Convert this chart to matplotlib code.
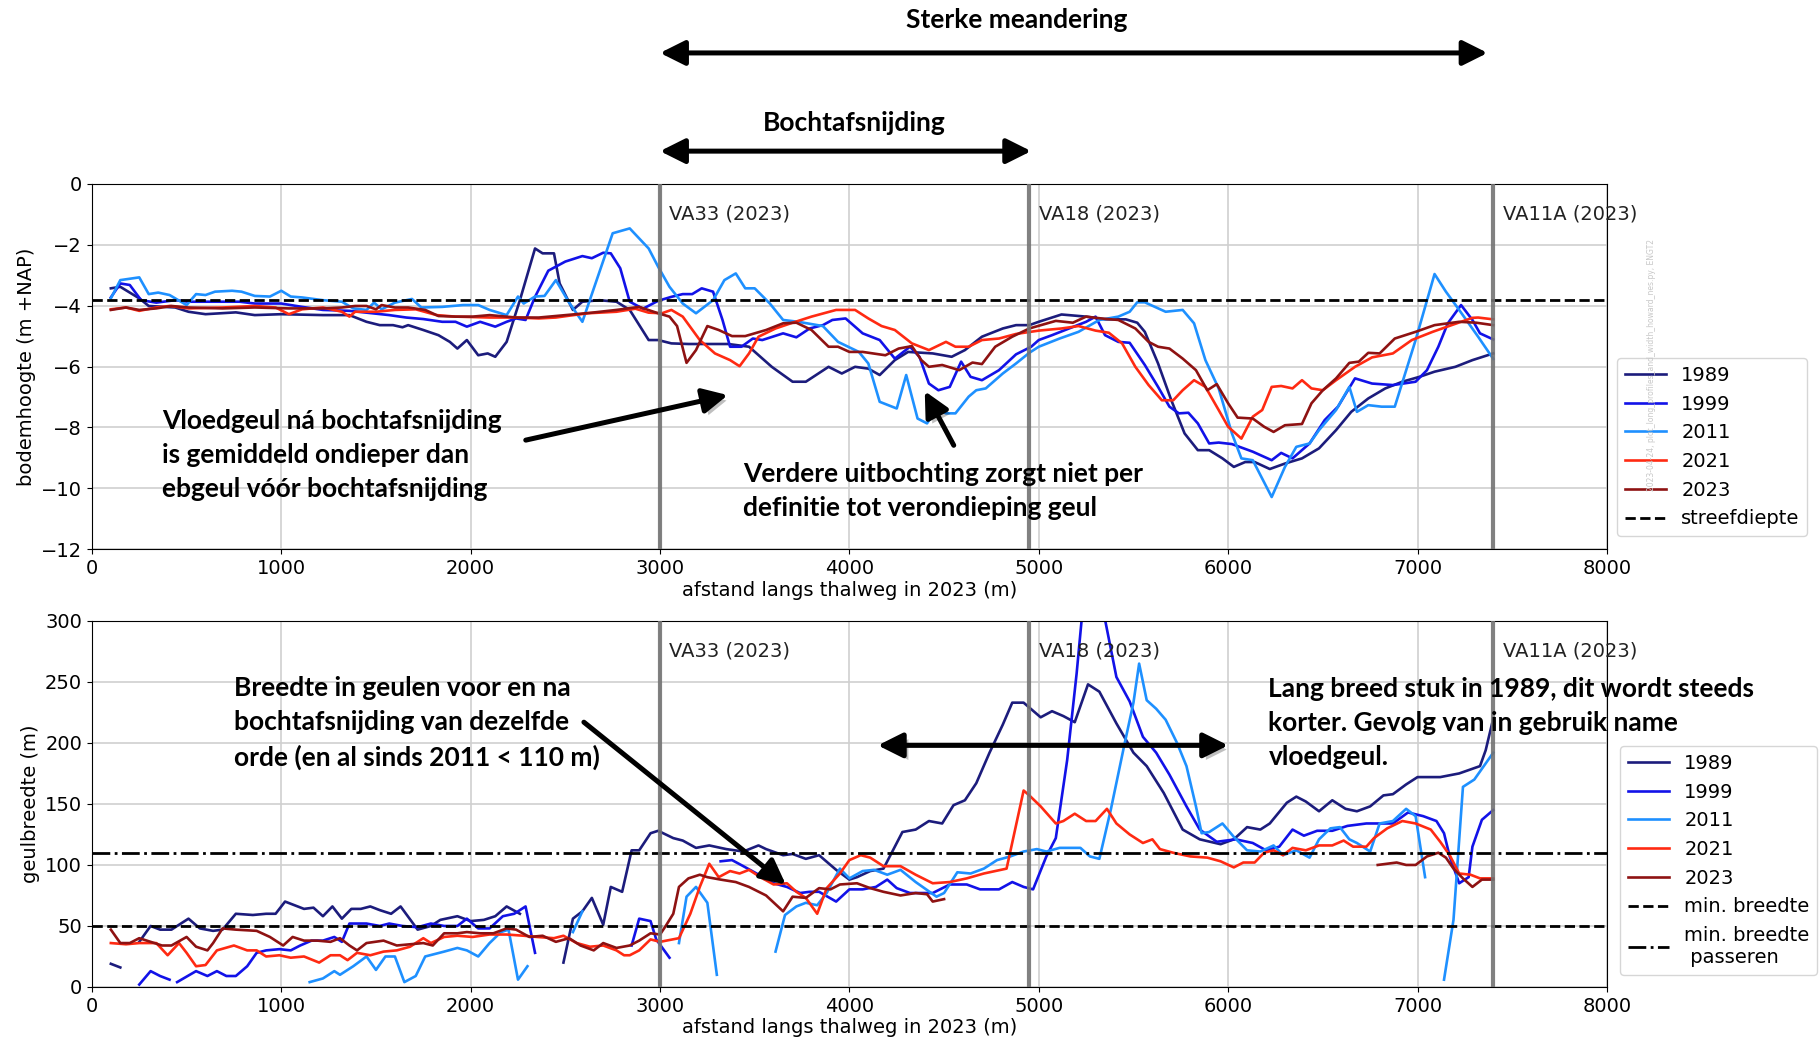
import numpy as np
import matplotlib
matplotlib.use('Agg')
import matplotlib.pyplot as plt
from matplotlib import patheffects as pe

nan = np.nan

years = ['1989', '1999', '2011', '2021', '2023']
colors = ['#1c1c7c', '#1212e8', '#1e90ff', '#ff2a12', '#8e1212']

# bodemhoogte (m +NAP) along thalweg distance (m)
depth_1989 = [(100,-3.43),(150,-3.38),(250,-3.76),(300,-4.01),(440,-4.06),(510,-4.2),(600,-4.28),(760,-4.22),(860,-4.31),(1000,-4.28),(1220,-4.31),(1360,-4.31),(1450,-4.53),(1520,-4.64),(1590,-4.64),(1640,-4.71),(1670,-4.64),(1750,-4.8),(1830,-4.97),(1890,-5.19),(1930,-5.41),(1980,-5.13),(2040,-5.63),(2090,-5.57),(2130,-5.68),(2190,-5.19),(2260,-3.82),(2340,-2.12),(2380,-2.28),(2440,-2.28),(2470,-3.27),(2540,-4.14),(2590,-3.87),(2680,-3.82),(2770,-3.87),(2840,-4.14),(2940,-5.13),(2990,-5.13),(3060,-5.24),(3150,-5.26),(3360,-5.26),(3470,-5.35),(3590,-6.01),(3700,-6.5),(3770,-6.5),(3890,-6.01),(3960,-6.23),(4030,-6.01),(4100,-6.07),(4160,-6.28),(4240,-5.79),(4310,-5.52),(4440,-5.57),(4540,-5.68),(4610,-5.46),(4700,-5.02),(4810,-4.75),(4880,-4.64),(4950,-4.64),(5000,-4.53),(5120,-4.29),(5250,-4.36),(5350,-4.45),(5460,-4.45),(5520,-4.56),(5560,-4.86),(5630,-5.9),(5700,-7.11),(5770,-8.2),(5840,-8.75),(5900,-8.75),(5970,-9.02),(6030,-9.3),(6090,-9.14),(6140,-9.14),(6220,-9.37),(6300,-9.19),(6390,-9.02),(6480,-8.69),(6570,-8.09),(6650,-7.49),(6740,-7.05),(6830,-6.72),(6920,-6.5),(7010,-6.34),(7090,-6.17),(7200,-6.01),(7290,-5.79),(7400,-5.57)]
depth_1999 = [(100,-3.73),(150,-3.27),(200,-3.32),(260,-3.82),(340,-3.9),(440,-3.82),(510,-3.87),(690,-3.87),(780,-3.87),(860,-3.93),(1000,-3.93),(1110,-4.04),(1220,-4.14),(1360,-4.17),(1480,-4.25),(1570,-4.31),(1660,-4.39),(1750,-4.44),(1850,-4.53),(1920,-4.53),(1980,-4.69),(2050,-4.53),(2130,-4.69),(2190,-4.53),(2240,-4.42),(2290,-4.47),(2340,-3.71),(2410,-2.85),(2500,-2.55),(2590,-2.37),(2640,-2.44),(2700,-2.26),(2740,-2.28),(2790,-2.77),(2840,-3.87),(2910,-4.1),(2990,-3.84),(3060,-3.71),(3120,-3.62),(3170,-3.62),(3220,-3.43),(3280,-3.54),(3330,-4.47),(3370,-5.35),(3430,-5.35),(3490,-5.08),(3540,-5.13),(3650,-4.91),(3720,-5.04),(3790,-4.75),(3860,-4.64),(3910,-4.47),(3980,-4.42),(4070,-4.91),(4160,-5.13),(4240,-5.74),(4320,-5.35),(4370,-5.68),(4420,-6.56),(4470,-6.78),(4530,-6.67),(4590,-5.84),(4640,-6.34),(4700,-6.45),(4790,-6.12),(4880,-5.6),(4960,-5.35),(5000,-5.13),(5070,-4.97),(5160,-4.75),(5250,-4.53),(5300,-4.36),(5350,-4.97),(5420,-5.19),(5480,-5.22),(5560,-5.95),(5630,-6.67),(5690,-7.32),(5740,-7.54),(5790,-7.52),(5840,-7.87),(5900,-8.53),(5950,-8.5),(6020,-8.55),(6130,-8.8),(6230,-9.08),(6280,-8.84),(6340,-9.02),(6430,-8.53),(6510,-7.76),(6580,-7.32),(6670,-6.39),(6760,-6.56),(6870,-6.61),(6990,-6.5),(7050,-6.12),(7110,-5.35),(7160,-4.58),(7230,-3.98),(7290,-4.47),(7330,-4.91),(7400,-5.11)]
depth_2011 = [(100,-3.76),(150,-3.16),(250,-3.07),(300,-3.62),(350,-3.57),(410,-3.65),(500,-3.98),(550,-3.62),(600,-3.65),(650,-3.54),(740,-3.51),(790,-3.54),(860,-3.68),(940,-3.7),(1000,-3.51),(1050,-3.7),(1110,-3.73),(1220,-3.82),(1320,-3.87),(1380,-4.09),(1450,-4.14),(1490,-3.9),(1530,-4.12),(1600,-3.9),(1690,-3.78),(1740,-4.06),(1850,-4.04),(1960,-3.98),(2040,-3.98),(2100,-4.14),(2190,-4.31),(2250,-3.7),(2280,-3.93),(2340,-3.7),(2390,-3.68),(2450,-3.16),(2520,-3.9),(2590,-4.53),(2750,-1.62),(2840,-1.46),(2940,-2.12),(2990,-2.72),(3050,-3.38),(3120,-3.93),(3190,-4.25),(3280,-3.82),(3340,-3.16),(3400,-2.94),(3450,-3.43),(3500,-3.43),(3580,-3.93),(3650,-4.47),(3730,-4.53),(3860,-4.67),(3940,-5.19),(4050,-5.52),(4100,-5.9),(4160,-7.16),(4250,-7.38),(4300,-6.28),(4360,-7.71),(4410,-7.87),(4460,-7.38),(4510,-7.54),(4560,-7.54),(4630,-6.99),(4670,-6.78),(4720,-6.72),(4810,-6.23),(4880,-5.9),(4950,-5.55),(5000,-5.35),(5110,-5.08),(5210,-4.86),(5320,-4.47),(5420,-4.36),(5480,-4.2),(5520,-3.89),(5560,-3.89),(5670,-4.2),(5760,-4.14),(5820,-4.58),(5880,-5.79),(5950,-6.72),(6020,-8.2),(6070,-9.02),(6130,-9.08),(6230,-10.29),(6300,-9.3),(6360,-8.64),(6430,-8.53),(6480,-8.09),(6570,-7.43),(6640,-6.67),(6680,-7.49),(6740,-7.27),(6810,-7.32),(6880,-7.32),(6990,-5.13),(7090,-2.96),(7150,-3.54),(7220,-4.14),(7320,-5.02),(7400,-5.75)]
depth_2021 = [(100,-4.12),(180,-4.06),(250,-4.17),(340,-4.06),(410,-4.01),(510,-4.09),(690,-4.06),(860,-4.01),(970,-4.06),(1040,-4.28),(1110,-4.12),(1220,-4.06),(1320,-4.2),(1360,-4.36),(1390,-4.2),(1500,-4.2),(1600,-4.14),(1710,-4.12),(1820,-4.31),(1920,-4.36),(2100,-4.39),(2240,-4.39),(2360,-4.42),(2450,-4.39),(2520,-4.33),(2620,-4.25),(2770,-4.2),(2870,-4.1),(2940,-4.23),(3010,-4.25),(3060,-4.14),(3120,-4.36),(3210,-5.13),(3290,-5.57),(3370,-5.79),(3420,-5.99),(3470,-5.57),(3520,-5.02),(3610,-4.75),(3700,-4.56),(3800,-4.36),(3930,-4.14),(4030,-4.14),(4100,-4.42),(4170,-4.67),(4240,-4.8),(4330,-5.24),(4420,-5.46),(4510,-5.19),(4560,-5.35),(4630,-5.35),(4700,-5.13),(4790,-5.08),(4880,-4.93),(5000,-4.82),(5120,-4.75),(5210,-4.67),(5300,-4.82),(5370,-4.89),(5440,-5.24),(5510,-6.01),(5580,-6.61),(5650,-7.11),(5710,-7.11),(5760,-6.78),(5820,-6.45),(5880,-6.67),(5950,-7.43),(6000,-7.98),(6070,-8.37),(6130,-7.65),(6180,-7.43),(6230,-6.67),(6280,-6.64),(6340,-6.72),(6390,-6.45),(6440,-6.72),(6500,-6.78),(6570,-6.45),(6670,-6.01),(6760,-5.7),(6870,-5.57),(6970,-5.13),(7080,-4.86),(7180,-4.64),(7290,-4.4),(7320,-4.39),(7400,-4.45)]
depth_2023 = [(100,-4.14),(180,-4.06),(250,-4.14),(340,-4.09),(420,-4.01),(510,-4.06),(690,-4.09),(860,-4.06),(1040,-4.09),(1220,-4.09),(1320,-4.06),(1390,-4.01),(1450,-4.01),(1500,-4.12),(1530,-3.98),(1600,-4.06),(1670,-4.06),(1760,-4.14),(1830,-4.34),(1920,-4.36),(2010,-4.36),(2100,-4.31),(2240,-4.39),(2360,-4.39),(2520,-4.3),(2640,-4.23),(2770,-4.14),(2890,-4.04),(2990,-4.25),(3050,-4.36),(3090,-4.67),(3140,-5.88),(3190,-5.46),(3250,-4.67),(3310,-4.8),(3380,-5.0),(3450,-5.0),(3560,-4.8),(3650,-4.58),(3720,-4.56),(3800,-4.8),(3890,-5.35),(3940,-5.35),(4000,-5.52),(4070,-5.52),(4190,-5.63),(4260,-5.41),(4330,-5.33),(4380,-5.79),(4420,-6.01),(4490,-5.95),(4580,-6.12),(4650,-5.87),(4700,-5.92),(4770,-5.35),(4860,-5.02),(4950,-4.75),(5090,-4.5),(5180,-4.56),(5250,-4.36),(5330,-4.42),(5420,-4.47),(5510,-4.75),(5580,-5.19),(5630,-5.35),(5690,-5.41),(5760,-5.74),(5830,-6.12),(5890,-6.78),(5940,-6.58),(6000,-7.21),(6050,-7.68),(6130,-7.71),(6190,-7.98),(6240,-8.15),(6300,-7.93),(6390,-7.89),(6440,-7.21),(6500,-6.78),(6570,-6.39),(6640,-5.88),(6690,-5.84),(6740,-5.55),(6800,-5.57),(6880,-5.08),(6990,-4.86),(7090,-4.64),(7220,-4.53),(7310,-4.56),(7400,-4.64)]

# geulbreedte (m) along thalweg distance (m); nan = gap
width_1989 = [(100,19),(150,16),(200,nan),(250,37),(310,50),(360,47),(420,47),(510,56),(570,48),(640,46),(690,47),(760,60),(850,59),(920,60),(970,60),(1020,70),(1120,64),(1170,65),(1220,58),(1270,66),(1320,56),(1370,64),(1420,64),(1470,66),(1520,63),(1580,60),(1630,66),(1720,47),(1790,50),(1840,55),(1930,58),(2000,54),(2070,55),(2130,58),(2190,66),(2260,60),(2300,nan),(2490,20),(2540,56),(2590,62),(2640,73),(2700,51),(2740,82),(2800,78),(2850,112),(2890,112),(2950,126),(2990,128),(3070,122),(3120,120),(3190,114),(3260,116),(3350,113),(3440,111),(3520,116),(3560,113),(3650,108),(3700,109),(3770,105),(3840,108),(3930,96),(4000,88),(4040,90),(4110,95),(4180,97),(4280,127),(4350,129),(4420,136),(4490,134),(4550,149),(4610,153),(4670,167),(4740,192),(4810,215),(4860,233),(4920,233),(4950,229),(5010,221),(5070,226),(5130,222),(5190,217),(5260,248),(5320,242),(5410,216),(5500,192),(5570,181),(5660,159),(5760,129),(5850,121),(5960,117),(6030,121),(6100,131),(6170,129),(6220,134),(6310,151),(6360,156),(6410,152),(6480,144),(6550,153),(6620,146),(6680,144),(6750,148),(6820,157),(6870,158),(6940,166),(7000,172),(7120,172),(7220,175),(7330,181),(7360,194),(7400,220)]
width_1999 = [(250,2),(310,13),(360,9),(410,6),(430,nan),(450,4),(550,13),(610,9),(660,13),(710,9),(760,9),(820,17),(870,28),(920,30),(990,31),(1050,30),(1100,34),(1160,38),(1220,38),(1280,41),(1320,37),(1360,52),(1450,52),(1520,50),(1570,52),(1640,50),(1720,49),(1790,52),(1860,50),(1930,50),(1980,56),(2040,48),(2100,48),(2170,58),(2230,60),(2290,66),(2340,28),(2400,nan),(2850,34),(2890,56),(2950,54),(2980,39),(3050,24),(3100,nan),(3320,103),(3380,104),(3440,99),(3510,93),(3600,85),(3670,82),(3740,77),(3790,78),(3840,78),(3930,70),(4000,80),(4070,80),(4140,82),(4200,88),(4250,81),(4320,77),(4370,77),(4440,77),(4530,84),(4620,84),(4690,80),(4790,80),(4860,86),(4920,82),(4970,80),(5040,107),(5090,122),(5150,186),(5200,257),(5250,340),(5310,340),(5350,301),(5410,254),(5480,234),(5550,205),(5620,192),(5690,174),(5780,148),(5850,129),(5940,119),(6040,121),(6130,118),(6200,112),(6270,115),(6340,129),(6400,124),(6470,128),(6550,128),(6630,132),(6730,134),(6800,134),(6870,134),(6950,143),(7030,140),(7100,136),(7140,126),(7170,107),(7220,85),(7270,90),(7290,115),(7340,137),(7400,145)]
width_2011 = [(1150,4),(1220,7),(1280,13),(1310,10),(1380,17),(1450,25),(1500,14),(1550,25),(1600,25),(1650,4),(1710,9),(1760,25),(1860,29),(1930,32),(1980,30),(2040,25),(2100,36),(2160,45),(2200,47),(2250,6),(2300,17),(2400,nan),(2540,45),(2590,62),(2620,nan),(3100,36),(3140,74),(3190,82),(3250,69),(3300,10),(3350,nan),(3610,29),(3660,59),(3720,66),(3770,69),(3830,67),(3880,77),(3950,97),(4000,89),(4070,95),(4130,96),(4200,92),(4270,96),(4350,86),(4460,74),(4500,77),(4570,94),(4640,93),(4710,97),(4780,104),(4850,107),(4920,111),(4990,113),(5040,111),(5110,114),(5220,114),(5270,107),(5320,105),(5380,145),(5450,197),(5500,233),(5530,265),(5570,235),(5620,228),(5670,219),(5730,200),(5780,181),(5830,148),(5860,126),(5900,127),(5970,134),(6030,123),(6100,112),(6170,111),(6240,116),(6290,108),(6360,112),(6430,106),(6480,121),(6540,130),(6590,131),(6640,121),(6680,118),(6750,111),(6800,134),(6870,136),(6940,146),(6990,140),(7040,90),(7090,nan),(7140,6),(7190,55),(7240,164),(7300,170),(7400,192)]
width_2021 = [(100,36),(180,35),(250,36),(340,36),(400,26),(460,36),(500,28),(550,17),(600,18),(660,30),(750,34),(820,30),(870,30),(920,25),(990,26),(1050,24),(1120,25),(1200,20),(1260,26),(1310,26),(1350,22),(1400,28),(1470,26),(1540,29),(1610,30),(1680,33),(1750,40),(1790,36),(1860,41),(1930,42),(2010,41),(2100,43),(2190,43),(2280,42),(2350,41),(2440,40),(2490,42),(2560,36),(2630,33),(2700,34),(2770,30),(2810,26),(2840,26),(2890,30),(2950,39),(3000,37),(3100,40),(3160,60),(3210,82),(3260,101),(3310,90),(3370,95),(3420,93),(3470,96),(3530,90),(3600,84),(3670,85),(3720,78),(3770,73),(3830,60),(3880,81),(3950,93),(4000,104),(4060,108),(4110,106),(4180,99),(4270,99),(4350,92),(4440,85),(4530,86),(4620,89),(4710,93),(4830,97),(4920,161),(4950,157),(5010,148),(5090,134),(5130,136),(5190,142),(5250,136),(5300,136),(5360,146),(5410,134),(5480,125),(5550,118),(5600,121),(5640,113),(5710,110),(5800,107),(5890,106),(5960,103),(6030,98),(6080,102),(6140,102),(6190,110),(6240,112),(6290,108),(6340,114),(6410,112),(6480,116),(6550,116),(6610,120),(6660,115),(6730,115),(6770,122),(6840,130),(6920,136),(6990,134),(7070,129),(7120,119),(7170,108),(7220,93),(7280,92),(7330,89),(7400,89)]
width_2023 = [(100,47),(150,36),(200,36),(250,40),(310,37),(370,34),(420,34),(500,41),(550,33),(610,30),(640,36),(690,48),(760,47),(870,46),(940,41),(1010,34),(1060,41),(1120,38),(1190,38),(1260,37),(1310,40),(1360,34),(1400,30),(1450,36),(1540,38),(1610,34),(1680,35),(1750,36),(1800,34),(1860,44),(1930,44),(1980,45),(2050,44),(2120,44),(2190,48),(2240,47),(2310,41),(2380,42),(2450,37),(2520,40),(2580,34),(2650,30),(2700,36),(2770,32),(2840,34),(2890,38),(2950,44),(3000,43),(3030,50),(3070,60),(3100,82),(3150,89),(3210,92),(3250,90),(3320,88),(3400,86),(3470,82),(3560,75),(3650,62),(3700,74),(3770,73),(3840,81),(3900,80),(3950,84),(4040,85),(4110,81),(4180,78),(4270,75),(4350,77),(4410,76),(4440,70),(4500,72),(4550,nan),(6790,100),(6890,102),(6940,100),(6990,100),(7050,107),(7110,110),(7150,106),(7190,97),(7240,89),(7290,82),(7340,88),(7400,88)]

depth_series = [depth_1989, depth_1999, depth_2011, depth_2021, depth_2023]
width_series = [width_1989, width_1999, width_2011, width_2021, width_2023]

streefdiepte = -3.8
min_breedte = 50
min_breedte_passeren = 110
raaien = [3000, 4950, 7400]
raai_labels = ['VA33 (2023)', 'VA18 (2023)', 'VA11A (2023)']

plt.rcParams['font.family'] = ['DejaVu Sans']
note_font = dict(family='Lato', weight='bold', fontsize=19, color='black')

fig = plt.figure(figsize=(18.2, 10.43), dpi=100)
ax1 = fig.add_axes([0.0505, 0.4736, 0.8324, 0.350])
ax2 = fig.add_axes([0.0505, 0.0537, 0.8324, 0.351])

for ax, series in ((ax1, depth_series), (ax2, width_series)):
    for yr, col, data in zip(years, colors, series):
        xs = [p[0] for p in data]
        ys = [p[1] for p in data]
        ax.plot(xs, ys, color=col, lw=1.9, label=yr)

ax1.axhline(streefdiepte, color='black', ls='--', lw=2, label='streefdiepte')
ax2.axhline(min_breedte, color='black', ls='--', lw=2, label='min. breedte')
ax2.axhline(min_breedte_passeren, color='black', ls='-.', lw=2, label='min. breedte\n passeren')

for ax in (ax1, ax2):
    for xv, lab in zip(raaien, raai_labels):
        ax.axvline(xv, color='0.45', lw=3, alpha=0.9, zorder=3)
        ax.text(xv + 50, 0.918, lab, transform=ax.get_xaxis_transform(),
                fontsize=14, color='#222222', va='center', ha='left')
    ax.set_xlim(0, 8000)
    ax.grid(True, color='#cfcfcf', lw=1.2)
    ax.set_axisbelow(True)
    ax.tick_params(labelsize=14)
    ax.set_xlabel('afstand langs thalweg in 2023 (m)', fontsize=14, labelpad=2)

ax1.set_ylim(-12, 0)
ax2.set_ylim(0, 300)
ax1.set_ylabel('bodemhoogte (m +NAP)', fontsize=14)
ax2.set_ylabel('geulbreedte (m)', fontsize=14)

leg1 = ax1.legend(loc='upper left', bbox_to_anchor=(1617/1820, 1 - 358/1043),
                  bbox_transform=fig.transFigure, fontsize=14, handlelength=2.1,
                  borderaxespad=0)
leg2 = ax2.legend(loc='upper left', bbox_to_anchor=(1620/1820, 1 - 746/1043),
                  bbox_transform=fig.transFigure, fontsize=14, handlelength=2.1,
                  borderaxespad=0)

fig.text(1652/1820, 1 - 365/1043, '2023-04-24, plot_long_profiles_and_width_howard_nes.py, ENGT2',
         rotation=90, fontsize=5.5, color='#c8c8c8', ha='center', va='center')

shadow = [pe.SimplePatchShadow(offset=(3, -3), alpha=0.25), pe.Normal()]

def arrow(ax, xy_from, xy_to, both=False, coords='data', lw=3.6, shade=True):
    style = ('<|-|>' if both else '-|>') + ',head_length=1.0,head_width=0.5'
    ann = ax.annotate('', xy=xy_to, xytext=xy_from, xycoords=coords, textcoords=coords,
                      arrowprops=dict(arrowstyle=style, lw=lw, color='black',
                                      mutation_scale=15, shrinkA=0, shrinkB=0),
                      annotation_clip=False)
    if shade:
        ann.arrow_patch.set_path_effects(shadow)
    return ann

# headers above the top panel
xt = ax1.get_xaxis_transform()
ax1.text(4884, 1.449, 'Sterke meandering', transform=xt, ha='center', va='center', **note_font)
arrow(ax1, (3000, 1.359), (7370, 1.359), both=True, coords=xt, shade=False)
ax1.text(4028, 1.167, 'Bochtafsnijding', transform=xt, ha='center', va='center', **note_font)
arrow(ax1, (3000, 1.09), (4960, 1.09), both=True, coords=xt, shade=False)

# notes in top panel
ax1.text(370, -8.9, 'Vloedgeul ná bochtafsnijding\nis gemiddeld ondieper dan\nebgeul vóór bochtafsnijding',
         ha='left', va='center', linespacing=1.5, **note_font)
arrow(ax1, (2291, -8.42), (3358, -6.94))
ax1.text(3437, -10.1, 'Verdere uitbochting zorgt niet per\ndefinitie tot verondieping geul',
         ha='left', va='center', linespacing=1.5, **note_font)
arrow(ax1, (4551, -8.59), (4398, -6.81))

# notes in bottom panel
ax2.text(750, 216, 'Breedte in geulen voor en na\nbochtafsnijding van dezelfde\norde (en al sinds 2011 < 110 m)',
         ha='left', va='center', linespacing=1.5, **note_font)
arrow(ax2, (2598, 217), (3664, 84))
arrow(ax2, (4150, 198), (6000, 198), both=True)
ax2.text(6213, 216, 'Lang breed stuk in 1989, dit wordt steeds\nkorter. Gevolg van in gebruik name\nvloedgeul.',
         ha='left', va='center', linespacing=1.5, **note_font)

fig.savefig('out.png', dpi=100)
